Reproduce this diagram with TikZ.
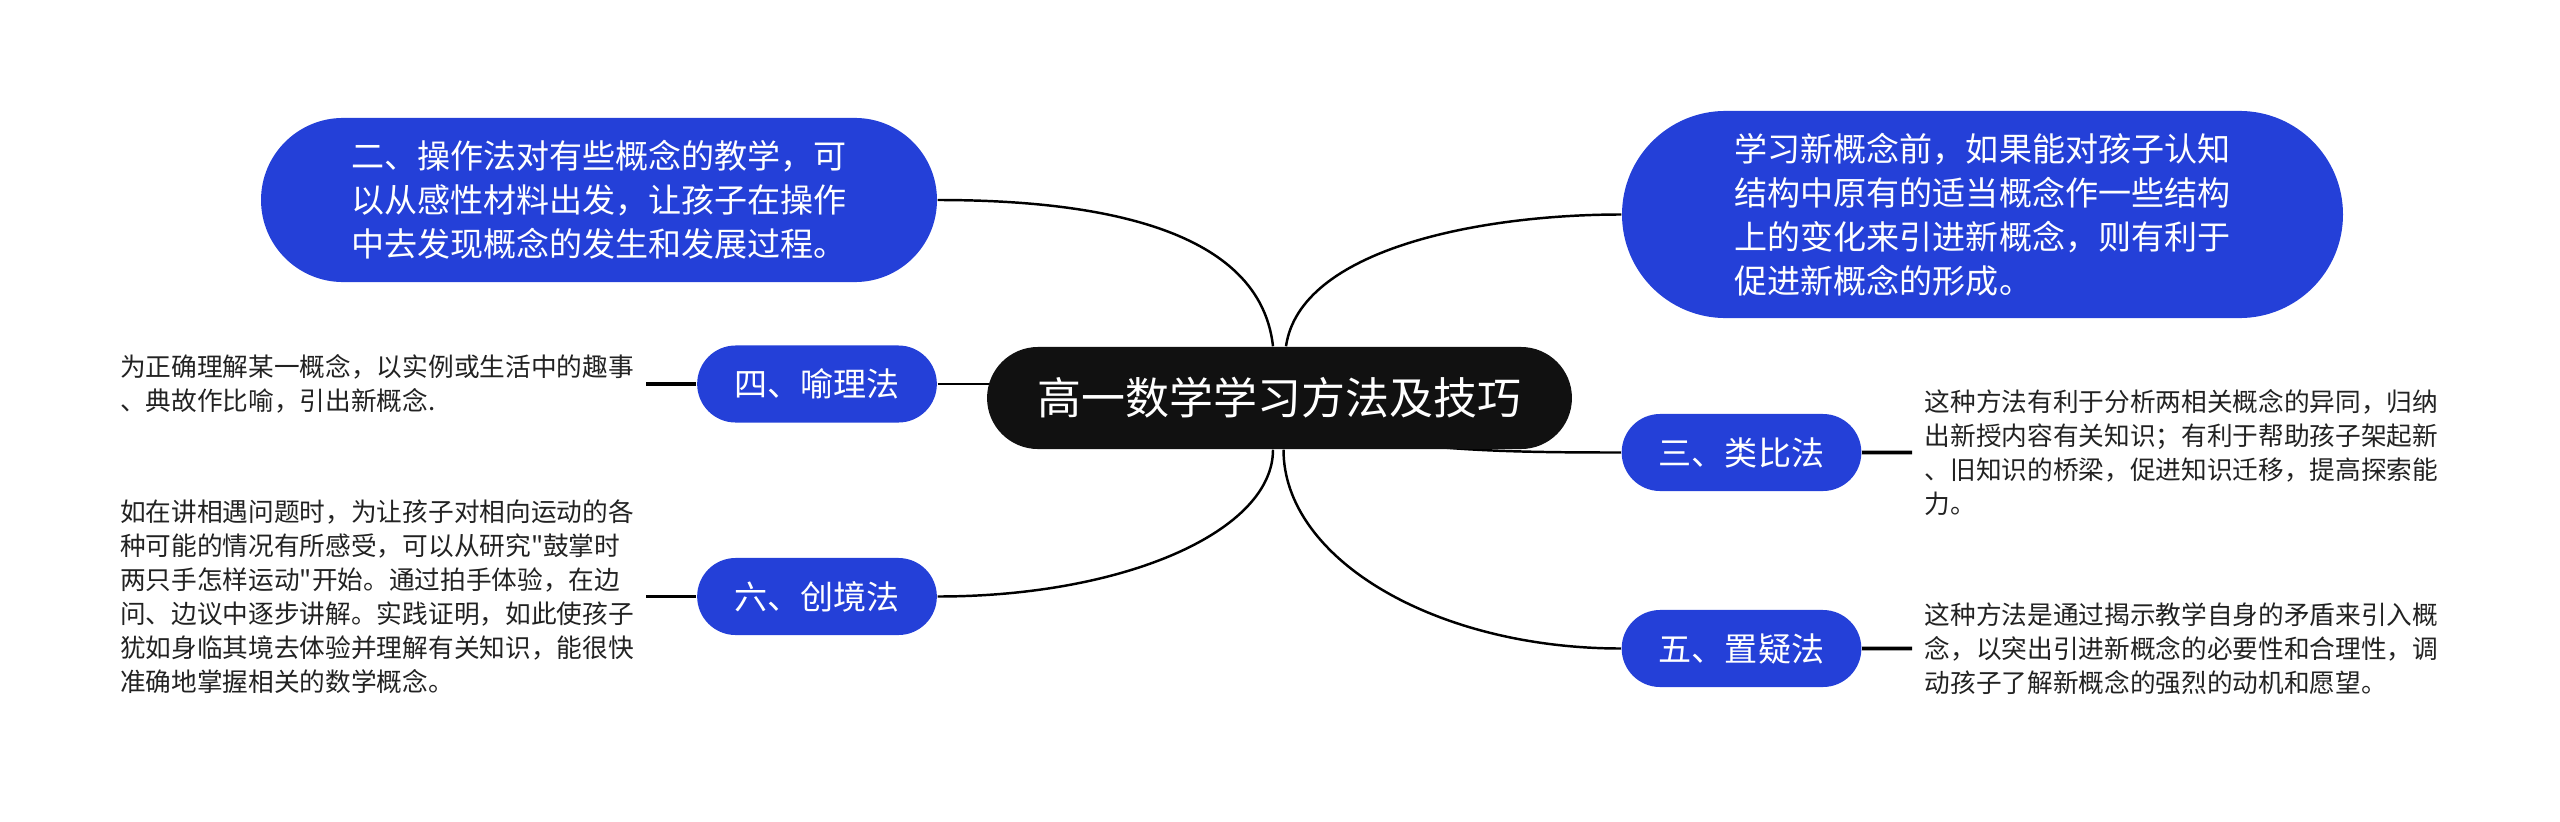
\documentclass[tikz,border=0pt]{standalone}
\usepackage{fontspec}
\setmainfont{Noto Sans CJK SC}[Ligatures=TeXOff]
\usetikzlibrary{positioning,shapes.misc,backgrounds}

\definecolor{topicblue}{RGB}{36,64,216}
\definecolor{rootblack}{RGB}{17,17,17}
\definecolor{notegray}{RGB}{34,34,34}

\newcommand{\centralfont}{\fontsize{12.5pt}{15pt}\selectfont}
\newcommand{\topicfont}{\fontsize{9.4pt}{12.5pt}\selectfont}
\newcommand{\notefont}{\fontsize{7.3pt}{9.7pt}\selectfont}

\begin{document}
\begin{tikzpicture}[
    x=0.01cm, y=-0.01cm,
    central/.style={
        rounded rectangle,
        fill=rootblack,
        text=white,
        font=\centralfont,
        minimum width=6.08cm,
        minimum height=1.02cm
    },
    bigtopic/.style={
        rounded rectangle,
        fill=topicblue,
        text=white,
        font=\topicfont,
        align=left
    },
    topic/.style={
        rounded rectangle,
        fill=topicblue,
        text=white,
        font=\topicfont,
        minimum width=2.63cm,
        minimum height=0.77cm
    },
    note/.style={font=\notefont, text=notegray, align=left, inner sep=0.12cm},
    branch/.style={line width=0.7pt},
    link/.style={line width=1pt}
]
\useasboundingbox (0,0) rectangle (2560,821);

% Nodes
\node (root) [central] at (1279.5,398) {高一数学学习方法及技巧};

\node (operate) [bigtopic, minimum width=6.99cm, minimum height=1.64cm] at (599,200)
{二、操作法对有些概念的教学，可\\以从感性材料出发，让孩子在操作\\中去发现概念的发生和发展过程。};

\node (concept) [bigtopic, minimum width=7.44cm, minimum height=2.07cm] at (1982.5,214.5)
{学习新概念前，如果能对孩子认知\\结构中原有的适当概念作一些结构\\上的变化来引进新概念，则有利于\\促进新概念的形成。};

\node (metaphor) [topic] at (817,384) {四、喻理法};
\node (scene) [topic] at (817,596.5) {六、创境法};
\node (analogy) [topic] at (1741.5,452.5) {三、类比法};
\node (doubt) [topic] at (1741.5,648.5) {五、置疑法};

\node (metaphornote) [note, left=0.5cm of metaphor]
{为正确理解某一概念，以实例或生活中的趣事\\、典故作比喻，引出新概念.};

\node (scenenote) [note, left=0.5cm of scene]
{如在讲相遇问题时，为让孩子对相向运动的各\\种可能的情况有所感受，可以从研究"鼓掌时\\两只手怎样运动"开始。通过拍手体验，在边\\问、边议中逐步讲解。实践证明，如此使孩子\\犹如身临其境去体验并理解有关知识，能很快\\准确地掌握相关的数学概念。};

\node (analogynote) [note, right=0.5cm of analogy]
{这种方法有利于分析两相关概念的异同，归纳\\出新授内容有关知识；有利于帮助孩子架起新\\、旧知识的桥梁，促进知识迁移，提高探索能\\力。};

\node (doubtnote) [note, right=0.5cm of doubt]
{这种方法是通过揭示教学自身的矛盾来引入概\\念，以突出引进新概念的必要性和合理性，调\\动孩子了解新概念的强烈的动机和愿望。};

% Branches
\begin{scope}[on background layer]
\draw [branch] (operate.east) .. controls +(163,0) and +(-13,-117) .. ([xshift=-0.065cm]root.north);
\draw [branch] (concept.west) .. controls +(-142,0) and +(14,-97) .. ([xshift=0.065cm]root.north);
\draw [branch] (metaphor.east) -- (metaphor.east -| root.center);
\draw [branch] (analogy.west) .. controls +(-142,0) and +(50,52) .. (root.center);
\draw [branch] (scene.east) .. controls +(188,0) and +(0,81) .. ([xshift=-0.065cm]root.south);
\draw [branch] (doubt.west) .. controls +(-186,0) and +(0,109) .. ([xshift=0.04cm]root.south);
\end{scope}

% Notes
\draw [link] (metaphornote) -- (metaphor);
\draw [link] (scenenote) -- (scene);
\draw [link] (analogy) -- (analogynote);
\draw [link] (doubt) -- (doubtnote);

\end{tikzpicture}
\end{document}
